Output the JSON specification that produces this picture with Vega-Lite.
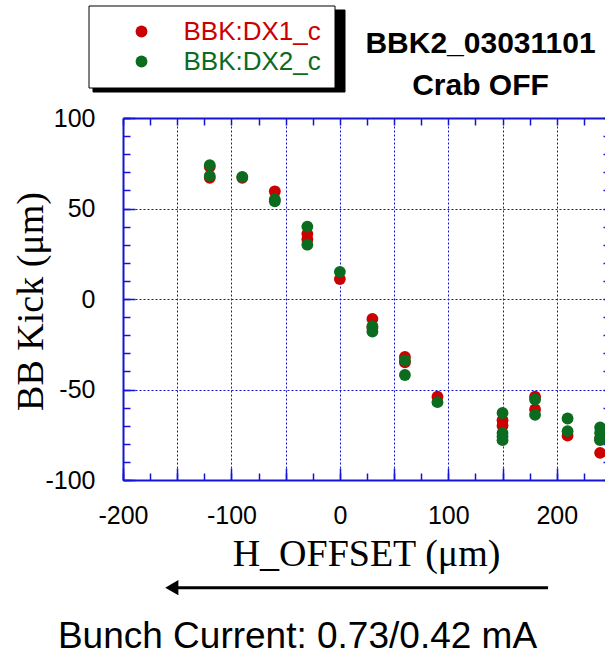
{
  "$schema": "https://vega.github.io/schema/vega-lite/v6.json",
  "width": 482,
  "height": 362,
  "autosize": {"type": "none"},
  "padding": {"left": 123, "top": 118, "right": 0, "bottom": 174},
  "background": "white",
  "config": {
    "view": {"stroke": null},
    "axis": {
      "domainColor": "#1414d6",
      "tickColor": "#1414d6",
      "gridColor": "#1414d6",
      "gridDash": [2, 2],
      "gridWidth": 1,
      "gridOpacity": 1,
      "domainWidth": 2,
      "tickWidth": 1.5,
      "labelFont": "Liberation Sans",
      "labelFontSize": 25,
      "labelColor": "black",
      "titleColor": "black",
      "labelFlush": false,
      "labelOverlap": false
    }
  },
  "datasets": {
    "kick": [
      {"h_offset": -120, "bb_kick": 67, "series": "BBK:DX1_c"},
      {"h_offset": -120, "bb_kick": 73, "series": "BBK:DX1_c"},
      {"h_offset": -90, "bb_kick": 67, "series": "BBK:DX1_c"},
      {"h_offset": -60, "bb_kick": 59.5, "series": "BBK:DX1_c"},
      {"h_offset": -30, "bb_kick": 36, "series": "BBK:DX1_c"},
      {"h_offset": -30, "bb_kick": 33, "series": "BBK:DX1_c"},
      {"h_offset": 0, "bb_kick": 11, "series": "BBK:DX1_c"},
      {"h_offset": 30, "bb_kick": -11, "series": "BBK:DX1_c"},
      {"h_offset": 30, "bb_kick": -16, "series": "BBK:DX1_c"},
      {"h_offset": 60, "bb_kick": -32, "series": "BBK:DX1_c"},
      {"h_offset": 60, "bb_kick": -35, "series": "BBK:DX1_c"},
      {"h_offset": 90, "bb_kick": -54, "series": "BBK:DX1_c"},
      {"h_offset": 150, "bb_kick": -67, "series": "BBK:DX1_c"},
      {"h_offset": 150, "bb_kick": -70, "series": "BBK:DX1_c"},
      {"h_offset": 180, "bb_kick": -54, "series": "BBK:DX1_c"},
      {"h_offset": 180, "bb_kick": -61, "series": "BBK:DX1_c"},
      {"h_offset": 210, "bb_kick": -75.5, "series": "BBK:DX1_c"},
      {"h_offset": 240, "bb_kick": -85, "series": "BBK:DX1_c"},
      {"h_offset": 240, "bb_kick": -77, "series": "BBK:DX1_c"},
      {"h_offset": -120, "bb_kick": 74, "series": "BBK:DX2_c"},
      {"h_offset": -120, "bb_kick": 68, "series": "BBK:DX2_c"},
      {"h_offset": -90, "bb_kick": 67.5, "series": "BBK:DX2_c"},
      {"h_offset": -60, "bb_kick": 55, "series": "BBK:DX2_c"},
      {"h_offset": -60, "bb_kick": 54, "series": "BBK:DX2_c"},
      {"h_offset": -30, "bb_kick": 40, "series": "BBK:DX2_c"},
      {"h_offset": -30, "bb_kick": 30, "series": "BBK:DX2_c"},
      {"h_offset": 0, "bb_kick": 15, "series": "BBK:DX2_c"},
      {"h_offset": 30, "bb_kick": -15, "series": "BBK:DX2_c"},
      {"h_offset": 30, "bb_kick": -18, "series": "BBK:DX2_c"},
      {"h_offset": 60, "bb_kick": -34, "series": "BBK:DX2_c"},
      {"h_offset": 60, "bb_kick": -42, "series": "BBK:DX2_c"},
      {"h_offset": 90, "bb_kick": -57, "series": "BBK:DX2_c"},
      {"h_offset": 150, "bb_kick": -63, "series": "BBK:DX2_c"},
      {"h_offset": 150, "bb_kick": -74, "series": "BBK:DX2_c"},
      {"h_offset": 150, "bb_kick": -76, "series": "BBK:DX2_c"},
      {"h_offset": 150, "bb_kick": -78, "series": "BBK:DX2_c"},
      {"h_offset": 180, "bb_kick": -55.5, "series": "BBK:DX2_c"},
      {"h_offset": 180, "bb_kick": -64, "series": "BBK:DX2_c"},
      {"h_offset": 210, "bb_kick": -66, "series": "BBK:DX2_c"},
      {"h_offset": 210, "bb_kick": -73, "series": "BBK:DX2_c"},
      {"h_offset": 240, "bb_kick": -71, "series": "BBK:DX2_c"},
      {"h_offset": 240, "bb_kick": -74, "series": "BBK:DX2_c"},
      {"h_offset": 240, "bb_kick": -77, "series": "BBK:DX2_c"},
      {"h_offset": 240, "bb_kick": -78, "series": "BBK:DX2_c"}
    ]
  },
  "layer": [
    {
      "data": {"name": "kick"},
      "transform": [{"filter": "datum.series === 'BBK:DX1_c'"}],
      "mark": {"type": "point", "filled": true, "size": 140, "opacity": 1, "strokeWidth": 0},
      "encoding": {
        "x": {
          "field": "h_offset", "type": "quantitative",
          "scale": {"domain": [-200, 244.5], "nice": false, "zero": false},
          "axis": {
            "orient": "bottom", "values": [-200, -100, 0, 100, 200],
            "labelExpr": "datum.value < 0 ? '-' + abs(datum.value) : '' + datum.value",
            "ticks": false, "tickSize": 0, "grid": false, "domain": true,
            "labelPadding": 23,
            "title": "H_OFFSET (μm)", "titleFont": "Liberation Serif", "titleFontSize": 38,
            "titleFontWeight": "normal", "titleAlign": "center", "titleBaseline": "alphabetic",
            "titleX": 243, "titleY": 85
          }
        },
        "y": {
          "field": "bb_kick", "type": "quantitative",
          "scale": {"domain": [-100, 100], "nice": false, "zero": false},
          "axis": {
            "orient": "left", "values": [-100, -50, 0, 50, 100],
            "labelExpr": "datum.value < 0 ? '-' + abs(datum.value) : '' + datum.value",
            "ticks": false, "tickSize": 0, "grid": false, "domain": true,
            "labelPadding": 28,
            "title": "BB Kick (μm)", "titleFont": "Liberation Serif", "titleFontSize": 38,
            "titleFontWeight": "normal", "titleAngle": -90, "titleAlign": "center",
            "titleBaseline": "alphabetic", "titleX": -81, "titleY": 183
          }
        },
        "color": {
          "field": "series", "type": "nominal",
          "scale": {"domain": ["BBK:DX1_c", "BBK:DX2_c"], "range": ["#cc0000", "#0b6b1f"]},
          "legend": {
            "orient": "none", "legendX": -34.5, "legendY": -112.5, "title": null,
            "fillColor": "white", "strokeColor": "black", "padding": 13,
            "labelFont": "Liberation Sans", "labelFontSize": 26,
            "labelExpr": "datum.label + ' '",
            "labelColor": {"expr": "scale('color', datum.value)"},
            "symbolType": "circle", "symbolSize": 140, "symbolStrokeWidth": 0,
            "symbolOffset": 27, "labelOffset": 29, "rowPadding": 4, "zindex": 2,
            "encode": {
              "legend": {"update": {"strokeWidth": {"value": 3}}},
              "labels": {"update": {"fill": {"signal": "scale('color', datum.value)"}}}
            }
          }
        },
        "shape": {
          "field": "series", "type": "nominal",
          "scale": {"domain": ["BBK:DX2_c", "BBK:DX1_c"], "range": ["circle", "circle"]},
          "legend": {
            "orient": "none", "legendX": -30.5, "legendY": -108.5, "title": null,
            "fillColor": "black", "strokeColor": "black", "padding": 13,
            "labelFont": "Liberation Sans", "labelFontSize": 26,
            "labelExpr": "''",
            "symbolType": "circle", "symbolSize": 140, "symbolStrokeWidth": 0,
            "symbolOffset": 200, "labelOffset": 0, "rowPadding": 4, "zindex": 1,
            "symbolOpacity": 0, "labelOpacity": 0,
            "encode": {
              "legend": {"update": {"strokeWidth": {"value": 3}, "fill": {"value": "black"}, "stroke": {"value": "black"}}},
              "symbols": {"update": {"opacity": {"value": 0}}}
            }
          }
        }
      }
    },
    {
      "data": {"name": "kick"},
      "transform": [{"filter": "datum.series === 'BBK:DX2_c'"}],
      "mark": {"type": "point", "filled": true, "size": 140, "opacity": 1, "strokeWidth": 0},
      "encoding": {
        "x": {
          "field": "h_offset", "type": "quantitative",
          "scale": {"domain": [-200, 244.5], "nice": false, "zero": false},
          "axis": {
            "orient": "bottom", "values": [-200, -150, -100, -50, 0, 50, 100, 150, 200],
            "ticks": true, "tickSize": -12, "labels": false, "grid": true, "domain": false,
            "title": "Bunch Current: 0.73/0.42 mA", "titleFont": "Liberation Sans",
            "titleFontSize": 37, "titleFontWeight": "normal", "titleAlign": "center",
            "titleBaseline": "alphabetic", "titleX": 174, "titleY": 167
          }
        },
        "y": {
          "field": "bb_kick", "type": "quantitative",
          "scale": {"domain": [-100, 100], "nice": false, "zero": false},
          "axis": {
            "orient": "left", "values": [-100, -50, 0, 50, 100],
            "ticks": true, "tickSize": -12, "labels": false, "grid": true, "domain": false,
            "title": null
          }
        },
        "color": {"field": "series", "type": "nominal"},
        "shape": {"field": "series", "type": "nominal"}
      }
    },
    {
      "data": {"values": [{}]},
      "mark": {"type": "rule", "color": "black", "strokeWidth": 3},
      "encoding": {
        "x": {
          "datum": 192, "type": "quantitative",
          "scale": {"domain": [-200, 244.5], "nice": false, "zero": false},
          "axis": {
            "orient": "bottom",
            "values": [-200, -175, -150, -125, -100, -75, -50, -25, 0, 25, 50, 75, 100, 125, 150, 175, 200, 225],
            "ticks": true, "tickSize": -7, "labels": false, "grid": false, "domain": false, "title": null
          }
        },
        "x2": {"datum": -156},
        "y": {
          "datum": -159.5, "type": "quantitative",
          "scale": {"domain": [-100, 100], "nice": false, "zero": false},
          "axis": {
            "orient": "left",
            "values": [-100, -90, -80, -70, -60, -50, -40, -30, -20, -10, 0, 10, 20, 30, 40, 50, 60, 70, 80, 90, 100],
            "ticks": true, "tickSize": -7, "labels": false, "grid": false, "domain": false, "title": null
          }
        }
      }
    },
    {
      "data": {"values": [{}]},
      "mark": {"type": "point", "shape": "triangle-left", "filled": true, "color": "black", "opacity": 1, "size": 230, "strokeWidth": 0},
      "encoding": {
        "x": {
          "datum": -155, "type": "quantitative",
          "scale": {"domain": [-200, 244.5], "nice": false, "zero": false},
          "axis": {
            "orient": "top",
            "values": [-200, -175, -150, -125, -100, -75, -50, -25, 0, 25, 50, 75, 100, 125, 150, 175, 200, 225],
            "ticks": true, "tickSize": -7, "labels": false, "grid": false, "domain": true,
            "title": ["BBK2_03031101", "Crab OFF"], "titleFont": "Liberation Sans",
            "titleFontSize": 30, "titleFontWeight": "bold", "titleLineHeight": 42,
            "titleAlign": "center", "titleBaseline": "alphabetic", "titleX": 357, "titleY": -66
          }
        },
        "y": {
          "datum": -159.5, "type": "quantitative",
          "scale": {"domain": [-100, 100], "nice": false, "zero": false},
          "axis": {
            "orient": "right",
            "values": [-100, -90, -80, -70, -60, -50, -40, -30, -20, -10, 0, 10, 20, 30, 40, 50, 60, 70, 80, 90, 100],
            "ticks": true, "tickSize": -2, "labels": false, "grid": false, "domain": false, "title": null
          }
        }
      }
    }
  ],
  "resolve": {"axis": {"x": "independent", "y": "independent"}}
}
